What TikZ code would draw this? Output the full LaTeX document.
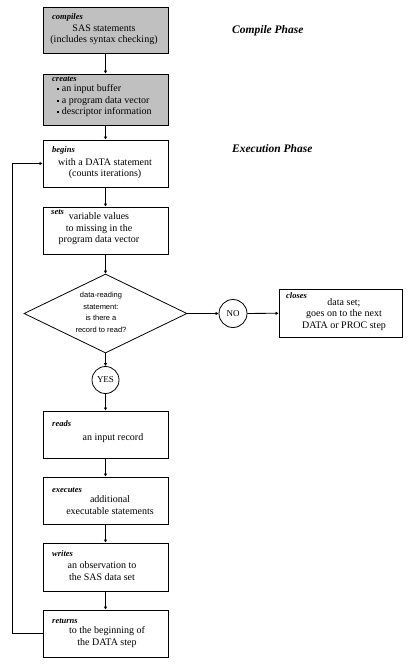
\documentclass[tikz,border=0pt]{standalone}
\usepackage{fontspec}
\setmainfont{Liberation Serif}
\newfontfamily\diafont{Liberation Sans}
\usetikzlibrary{arrows.meta,shapes.geometric}
\definecolor{boxgray}{RGB}{192,192,192}
\tikzset{
  box/.style={draw=black, line width=0.8pt, minimum width=125pt, minimum height=47pt, inner sep=0pt},
  graybox/.style={box, fill=boxgray},
  lbl/.style={anchor=west, inner sep=0pt, font=\fontsize{8.5}{10}\selectfont\bfseries\itshape},
  body/.style={inner sep=0pt, align=center, font=\fontsize{10}{11.5}\selectfont},
  phase/.style={anchor=west, inner sep=0pt, font=\fontsize{11.5}{13}\selectfont\bfseries\itshape},
  circ/.style={draw=black, line width=0.8pt, circle, minimum size=28pt, inner sep=0pt, font=\fontsize{9}{10}\selectfont},
  arr/.style={draw=black, line width=0.8pt, -{Latex[length=3pt,width=3.5pt]}},
}
\begin{document}
\begin{tikzpicture}[x=1pt,y=-1pt]
\useasboundingbox (0,0) rectangle (414,666);
\fill[white] (0,0) rectangle (414,666);

% compile phase
\node[graybox, minimum height=46pt] (c1) at (105.5,30) {};
\node[lbl] (c1l) at (52,17) {compiles};
\node[body] (c1t) at (104,35) {SAS statements\\(includes syntax checking)};

\node[graybox, minimum height=51pt] (c2) at (105.5,99.5) {};
\node[lbl] (c2l) at (52,79) {creates};
\node[body, anchor=west, align=left] (c2t) at (57,101) {\raisebox{1.5pt}{\rule{2.2pt}{2.2pt}}\ an input buffer\\\raisebox{1.5pt}{\rule{2.2pt}{2.2pt}}\ a program data vector\\\raisebox{1.5pt}{\rule{2.2pt}{2.2pt}}\ descriptor information};

\node[phase] (ph1) at (232,31) {Compile Phase};
\node[phase] (ph2) at (232,149) {Execution Phase};

% execution phase
\node[box] (b3) at (105.5,163.5) {};
\node[lbl] (b3l) at (52,150) {begins};
\node[body] (b3t) at (105,168.5) {with a DATA statement\\(counts iterations)};

\node[box] (b4) at (105.5,230.5) {};
\node[lbl] (b4l) at (51,212) {sets};
\node[body] (b4t) at (99,229) {variable values\\to missing in the\\program data vector};

\node[draw=black, line width=0.8pt, diamond, minimum width=163pt, minimum height=79pt, inner sep=0pt] (dia) at (105.5,313.5) {};
\node[inner sep=0pt, align=center, font=\diafont\fontsize{7.5}{11.6}\selectfont] (diat) at (101,312.5) {data-reading\\statement:\\is there a\\record to read?};

\node[circ] (no) at (233,313.5) {NO};
\node[box, minimum width=123pt, minimum height=48pt] (cl) at (340.5,313) {};
\node[lbl] (cll) at (286,296) {closes};
\node[body] (clt) at (344,314.5) {data set;\\goes on to the next\\DATA or PROC step};

\node[circ, minimum size=27pt] (yes) at (105.5,380) {YES};

\node[box] (rd) at (105.5,434.5) {};
\node[lbl] (rdl) at (52,424) {reads};
\node[body] (rdt) at (113,438) {an input record};

\node[box] (ex) at (105.5,500.5) {};
\node[lbl] (exl) at (52,490) {executes};
\node[body] (ext) at (110,505) {additional\\executable statements};

\node[box, minimum height=48pt] (wr) at (105.5,567) {};
\node[lbl] (wrl) at (52,554) {writes};
\node[body] (wrt) at (102,571) {an observation to\\the SAS data set};

\node[box] (rt) at (105.5,633.5) {};
\node[lbl] (rtl) at (52,621) {returns};
\node[body] (rtt) at (107,637) {to the beginning of\\the DATA step};

% connectors
\draw[arr] (c1) -- (c2);
\draw[arr] (c2) -- (b3);
\draw[arr] (b3) -- (b4);
\draw[arr] (b4) -- (dia);
\draw[arr] (dia) -- (no);
\draw[arr] (no) -- (cl);
\draw[arr] (dia) -- (yes);
\draw[arr] (yes) -- (rd);
\draw[arr] (rd) -- (ex);
\draw[arr] (ex) -- (wr);
\draw[arr] (wr) -- (rt);
\coordinate (loop) at (12,633.5);
\draw[arr] (rt.west) -- (loop) |- (b3.west);
\end{tikzpicture}
\end{document}
